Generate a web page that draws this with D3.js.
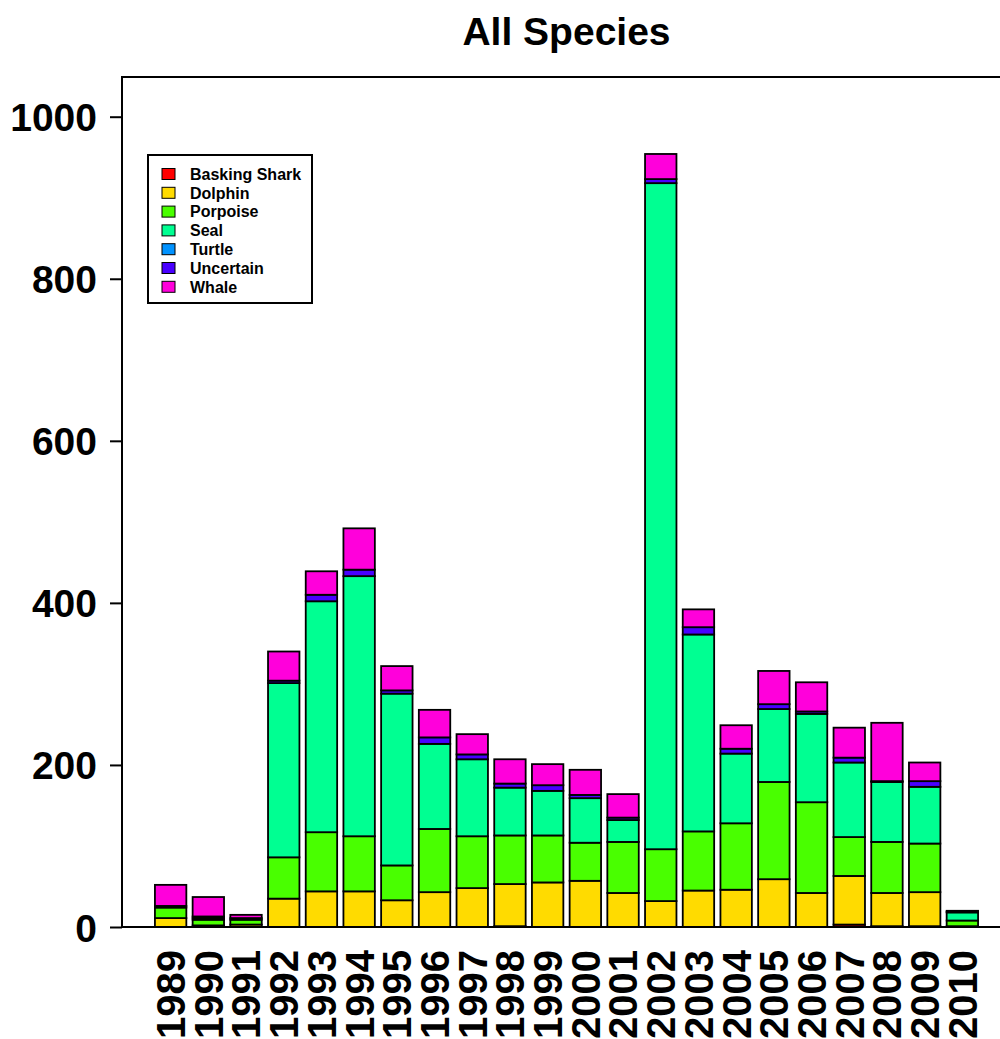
<!DOCTYPE html>
<html>
<head>
<meta charset="utf-8">
<script src="https://cdn.jsdelivr.net/npm/d3@7"></script>
<style>
  body { margin: 0; background: #fff; }
  text { font-family: "Liberation Sans", Arial, sans-serif; font-weight: bold; }
</style>
</head>
<body>
<svg id="chart" width="1000" height="1039"></svg>
<script>
// data
var years = ["1989","1990","1991","1992","1993","1994","1995","1996","1997","1998","1999",
             "2000","2001","2002","2003","2004","2005","2006","2007","2008","2009","2010"];
var species = ["Basking Shark","Dolphin","Porpoise","Seal","Turtle","Uncertain","Whale"];
var baskingShark = [0,0,0,0,0,0,0,0,0,1,0,0,0,0,0,0,0,0,3,1,1,0];
var dolphin   = [11,2,3,35,44,44,33,43,48,52,55,57,42,32,45,46,59,42,60,41,42,1];
var porpoise  = [13,7,6,51,73,68,43,78,64,60,58,47,63,64,73,82,120,112,48,63,60,7];
var seal      = [2,2,2,215,285,321,212,105,95,59,55,55,27,822,243,86,90,109,92,74,70,10];
var turtle    = [0,0,0,0,0,0,0,0,0,0,0,0,0,0,0,0,0,0,0,0,0,0];
var uncertain = [0,2,0,3,8,8,4,8,6,5,7,4,3,5,9,6,6,3,6,1,7,1];
var whale     = [26,24,4,36,29,51,30,34,25,30,26,31,29,31,22,29,41,36,37,72,23,1];
var yTicks = [0,200,400,600,800,1000];

var colors = ["#FF0000","#FFDB00","#49FF00","#00FF92","#0092FF","#4900FF","#FF00DB"];
var seriesArrays = [baskingShark, dolphin, porpoise, seal, turtle, uncertain, whale];

// table for d3.stack
var rows = years.map(function(y, i) {
  var r = { year: y };
  species.forEach(function(s, j) { r[s] = seriesArrays[j][i]; });
  return r;
});

var plot = { left: 122, right: 1011, top: 77, bottom: 927 };

var svg = d3.select("#chart");

var x = d3.scaleBand()
  .domain(years)
  .range([plot.left, plot.right])
  .paddingInner(0.2 / 1.2)
  .paddingOuter(0.8733);

var y = d3.scaleLinear()
  .domain([0, 1049])
  .range([plot.bottom, plot.top]);

var stacked = d3.stack().keys(species)(rows);

// bars
svg.selectAll(".layer")
  .data(stacked)
  .enter()
  .append("g")
  .attr("class", "layer")
  .attr("fill", function(d, i) { return colors[i]; })
  .selectAll("rect")
  .data(function(d) { return d.filter(function(p) { return p[1] - p[0] > 0; }); })
  .enter()
  .append("rect")
  .attr("x", function(d) { return x(d.data.year); })
  .attr("width", x.bandwidth())
  .attr("y", function(d) { return y(d[1]); })
  .attr("height", function(d) { return y(d[0]) - y(d[1]); })
  .attr("stroke", "#000")
  .attr("stroke-width", 1.8);

// box round the plot
svg.append("rect")
  .attr("x", plot.left)
  .attr("y", plot.top)
  .attr("width", plot.right - plot.left)
  .attr("height", plot.bottom - plot.top)
  .attr("fill", "none")
  .attr("stroke", "#000")
  .attr("stroke-width", 2);

// y axis
var yAxis = svg.append("g")
  .attr("transform", "translate(" + plot.left + ",0)")
  .call(d3.axisLeft(y).tickValues(yTicks).tickSize(12).tickPadding(13).tickFormat(d3.format("d")));
yAxis.select(".domain").remove();
yAxis.selectAll("line").attr("stroke", "#000").attr("stroke-width", 2);
yAxis.selectAll("text")
  .style("font-size", "39px")
  .style("font-family", "'Liberation Sans', Arial, sans-serif")
  .style("font-weight", "bold")
  .attr("fill", "#000")
  .attr("dy", "0.36em");

// x labels, vertical
var xAxis = svg.append("g")
  .attr("transform", "translate(0," + plot.bottom + ")")
  .call(d3.axisBottom(x).tickSize(0));
xAxis.select(".domain").remove();
xAxis.selectAll("text")
  .style("font-size", "40px")
  .style("font-family", "'Liberation Sans', Arial, sans-serif")
  .style("font-weight", "bold")
  .attr("fill", "#000")
  .attr("text-anchor", "end")
  .attr("y", 0)
  .attr("dy", "0.36em")
  .attr("transform", "translate(0,23) rotate(-90)");

// title
svg.append("text")
  .attr("x", (plot.left + plot.right) / 2)
  .attr("y", 45)
  .attr("text-anchor", "middle")
  .style("font-size", "39px")
  .text("All Species");

// legend
var legend = svg.append("g").attr("transform", "translate(148,155)");
legend.append("rect")
  .attr("width", 164)
  .attr("height", 148)
  .attr("fill", "#fff")
  .attr("stroke", "#000")
  .attr("stroke-width", 2);
var item = legend.selectAll(".item")
  .data(species)
  .enter()
  .append("g")
  .attr("class", "item")
  .attr("transform", function(d, i) { return "translate(0," + (19 + i * 18.8) + ")"; });
item.append("rect")
  .attr("x", 14)
  .attr("y", -5.5)
  .attr("width", 13)
  .attr("height", 11)
  .attr("fill", function(d, i) { return colors[i]; })
  .attr("stroke", "#000")
  .attr("stroke-width", 1);
item.append("text")
  .attr("x", 42)
  .attr("dy", "0.36em")
  .style("font-size", "16px")
  .text(function(d) { return d; });
</script>
</body>
</html>
